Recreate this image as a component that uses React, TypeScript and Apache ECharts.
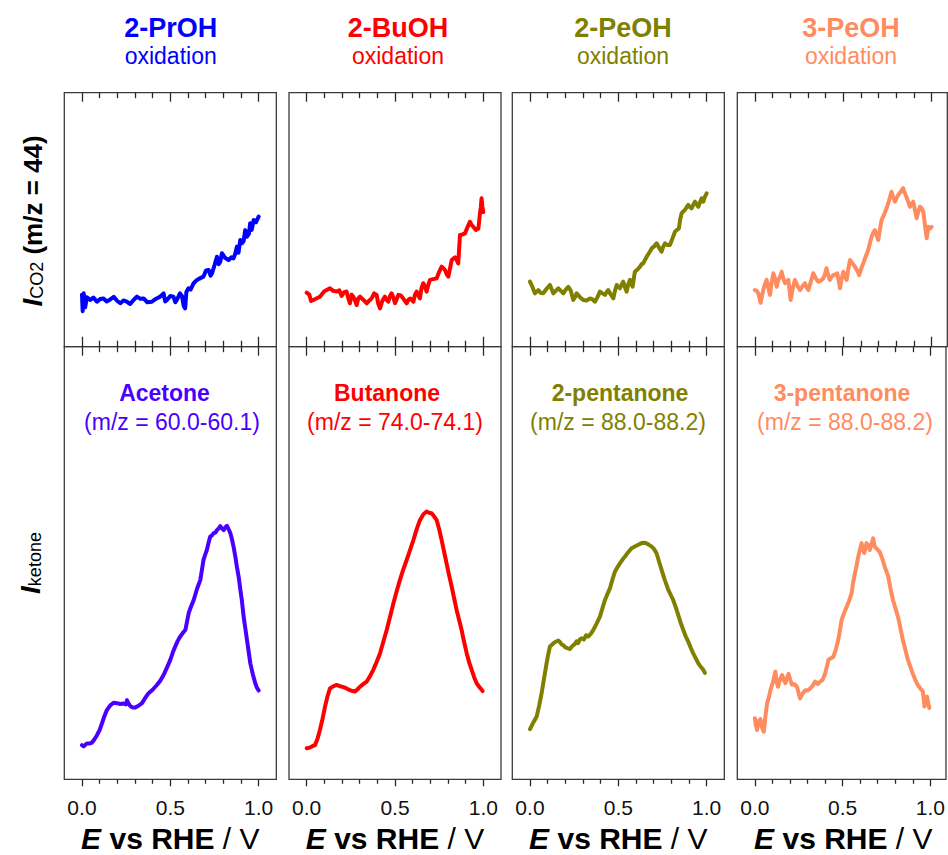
import React, { useEffect, useRef } from 'react';
import * as echarts from 'echarts';

const FONT = '"Liberation Sans", Arial, Helvetica, sans-serif';

// ---------- text ----------
const alcohols = ['2-PrOH', '2-BuOH', '2-PeOH', '3-PeOH'];
const ketones = ['Acetone', 'Butanone', '2-pentanone', '3-pentanone'];
const mzRanges = ['(m/z = 60.0-60.1)', '(m/z = 74.0-74.1)', '(m/z = 88.0-88.2)', '(m/z = 88.0-88.2)'];
const majorTicks = [0, 0.5, 1.0];
const minorTicks = [0.1, 0.2, 0.3, 0.4, 0.6, 0.7, 0.8, 0.9];

// ---------- data: [E (V vs RHE), signal (a.u.)] ----------
const co2PrOH = [[0.000,20.5],[0.004,14.0],[0.010,21.0],[0.018,15.5],[0.028,19.5],[0.047,18.4],[0.065,19.3],[0.085,17.7],[0.103,18.8],[0.122,19.0],[0.140,17.8],[0.160,18.6],[0.180,19.6],[0.200,18.0],[0.217,17.1],[0.235,18.2],[0.254,17.7],[0.273,16.8],[0.292,18.4],[0.311,19.7],[0.330,18.9],[0.349,19.0],[0.370,17.5],[0.396,17.7],[0.420,18.9],[0.443,19.7],[0.462,21.0],[0.471,17.8],[0.481,18.4],[0.500,20.0],[0.518,19.7],[0.528,17.5],[0.537,18.4],[0.555,21.0],[0.566,20.0],[0.576,16.0],[0.584,15.1],[0.591,21.5],[0.603,23.0],[0.615,22.5],[0.632,25.0],[0.651,26.3],[0.670,27.0],[0.688,27.6],[0.702,30.0],[0.717,30.2],[0.728,28.0],[0.736,28.9],[0.750,32.0],[0.764,35.4],[0.775,32.5],[0.783,33.5],[0.792,36.8],[0.810,35.0],[0.830,34.1],[0.845,35.2],[0.858,34.8],[0.867,36.5],[0.877,39.4],[0.886,37.0],[0.896,42.0],[0.905,40.7],[0.915,41.5],[0.924,45.9],[0.934,43.3],[0.945,44.5],[0.952,48.6],[0.961,46.0],[0.972,49.9],[0.985,49.0],[1.000,51.2]];
const co2BuOH = [[0.000,21.3],[0.015,20.5],[0.025,18.0],[0.038,18.4],[0.055,19.0],[0.075,19.7],[0.100,21.8],[0.132,23.0],[0.150,22.0],[0.170,21.7],[0.185,22.2],[0.198,20.0],[0.212,21.5],[0.226,21.7],[0.236,19.0],[0.245,17.1],[0.255,20.5],[0.264,19.7],[0.275,18.0],[0.283,16.4],[0.292,19.0],[0.302,19.7],[0.320,18.5],[0.340,17.1],[0.355,18.2],[0.368,19.0],[0.382,21.0],[0.396,20.4],[0.405,17.0],[0.415,15.1],[0.428,18.0],[0.443,19.7],[0.452,18.5],[0.462,17.7],[0.472,20.0],[0.481,21.0],[0.490,19.5],[0.500,17.1],[0.510,18.8],[0.519,20.4],[0.533,20.2],[0.547,19.0],[0.556,18.0],[0.566,17.1],[0.575,18.4],[0.585,19.0],[0.594,18.6],[0.604,17.7],[0.613,20.5],[0.623,21.7],[0.632,20.2],[0.641,19.0],[0.650,23.0],[0.660,25.0],[0.670,23.5],[0.679,21.7],[0.689,24.5],[0.698,26.3],[0.717,26.6],[0.736,26.9],[0.750,29.5],[0.764,31.5],[0.775,30.8],[0.783,30.2],[0.793,28.5],[0.802,27.6],[0.812,31.0],[0.821,34.1],[0.840,35.2],[0.850,34.0],[0.858,32.8],[0.863,38.5],[0.868,44.0],[0.882,44.2],[0.896,44.6],[0.910,47.0],[0.924,49.2],[0.933,48.0],[0.943,47.2],[0.958,46.0],[0.972,46.5],[0.981,52.5],[0.986,55.0],[0.990,58.4],[0.995,55.0],[1.000,53.0]];
const co2PeOH2 = [[0.000,25.6],[0.014,23.5],[0.028,21.0],[0.047,22.3],[0.060,21.2],[0.075,21.0],[0.094,22.8],[0.113,24.3],[0.132,21.0],[0.146,22.0],[0.160,23.0],[0.175,22.0],[0.189,21.0],[0.203,22.5],[0.217,23.6],[0.231,22.0],[0.245,18.4],[0.255,19.5],[0.264,21.0],[0.283,19.5],[0.302,18.4],[0.320,18.2],[0.340,19.0],[0.354,18.6],[0.368,17.7],[0.382,19.5],[0.396,21.7],[0.410,21.0],[0.425,20.4],[0.434,21.5],[0.443,22.3],[0.458,20.5],[0.472,19.0],[0.481,22.0],[0.491,24.3],[0.500,23.5],[0.509,23.0],[0.519,24.5],[0.528,25.6],[0.537,23.5],[0.547,21.7],[0.556,24.5],[0.566,26.3],[0.575,24.5],[0.581,23.6],[0.588,27.0],[0.594,29.5],[0.610,30.5],[0.623,31.5],[0.632,32.5],[0.641,32.8],[0.650,34.0],[0.660,35.4],[0.675,37.0],[0.689,38.7],[0.703,39.5],[0.717,40.7],[0.731,39.0],[0.745,37.4],[0.755,39.5],[0.764,40.7],[0.778,40.0],[0.792,40.0],[0.806,42.5],[0.821,45.3],[0.832,46.0],[0.843,46.6],[0.850,50.0],[0.858,52.5],[0.867,53.2],[0.877,53.8],[0.886,54.8],[0.896,55.8],[0.905,55.0],[0.915,54.5],[0.924,55.8],[0.934,57.1],[0.944,56.0],[0.953,55.1],[0.962,56.8],[0.972,58.4],[0.981,57.1],[0.990,59.0],[1.000,60.4]];
const co2PeOH3 = [[0.000,22.3],[0.010,22.0],[0.019,21.0],[0.026,19.0],[0.032,17.3],[0.040,20.0],[0.047,22.3],[0.056,24.5],[0.066,26.3],[0.075,23.5],[0.085,20.4],[0.094,25.0],[0.104,28.9],[0.113,27.0],[0.123,23.6],[0.132,26.3],[0.142,27.5],[0.151,29.5],[0.160,27.0],[0.170,25.0],[0.180,25.5],[0.189,26.3],[0.196,22.0],[0.202,18.4],[0.214,23.0],[0.226,26.3],[0.240,24.0],[0.255,22.3],[0.269,23.8],[0.283,25.0],[0.292,23.5],[0.302,22.3],[0.316,25.5],[0.330,28.9],[0.344,27.0],[0.358,25.6],[0.372,26.0],[0.387,26.9],[0.396,28.5],[0.405,30.9],[0.415,28.0],[0.424,26.3],[0.434,27.5],[0.443,28.2],[0.455,28.5],[0.466,28.9],[0.474,26.0],[0.481,23.0],[0.490,26.5],[0.500,29.5],[0.510,27.5],[0.519,26.3],[0.528,30.5],[0.538,34.1],[0.552,32.8],[0.566,31.5],[0.578,30.0],[0.590,28.2],[0.600,30.5],[0.613,32.8],[0.627,35.5],[0.641,38.1],[0.650,40.5],[0.660,43.3],[0.670,45.0],[0.679,45.9],[0.688,44.0],[0.698,42.0],[0.708,46.5],[0.717,49.9],[0.731,52.0],[0.745,54.5],[0.759,57.5],[0.773,61.0],[0.782,59.0],[0.792,57.1],[0.801,58.5],[0.811,59.7],[0.825,61.0],[0.839,62.4],[0.848,60.5],[0.858,58.8],[0.868,57.0],[0.877,55.1],[0.886,56.0],[0.896,57.1],[0.905,54.0],[0.915,50.6],[0.924,53.0],[0.934,55.1],[0.944,54.5],[0.953,53.1],[0.962,48.0],[0.972,42.7],[0.977,45.0],[0.981,47.2],[0.990,46.5],[1.000,47.2]];

const ketAcetone = [[0.000,7.9],[0.010,7.6],[0.028,8.3],[0.045,8.3],[0.057,8.5],[0.070,9.2],[0.085,10.2],[0.100,11.4],[0.113,12.9],[0.127,14.6],[0.141,16.0],[0.160,17.1],[0.179,17.7],[0.198,17.6],[0.217,17.4],[0.236,17.5],[0.250,17.3],[0.255,18.3],[0.262,17.6],[0.274,16.9],[0.288,16.6],[0.302,16.6],[0.320,17.0],[0.340,17.6],[0.358,18.8],[0.377,19.9],[0.400,20.7],[0.424,21.8],[0.443,22.8],[0.462,24.1],[0.481,25.8],[0.500,27.6],[0.514,29.3],[0.528,30.7],[0.542,32.0],[0.556,33.0],[0.570,33.8],[0.585,34.5],[0.595,36.5],[0.604,38.4],[0.618,40.0],[0.632,41.4],[0.651,44.0],[0.670,46.1],[0.679,48.4],[0.688,50.7],[0.698,52.0],[0.707,53.0],[0.716,54.6],[0.726,56.1],[0.736,56.4],[0.745,56.9],[0.755,57.0],[0.764,57.6],[0.774,58.0],[0.783,58.5],[0.792,58.0],[0.802,57.6],[0.811,58.2],[0.821,58.6],[0.830,57.8],[0.840,56.9],[0.849,55.5],[0.858,53.8],[0.868,51.5],[0.877,49.1],[0.887,46.8],[0.896,44.0],[0.905,41.4],[0.915,37.6],[0.925,34.8],[0.934,32.2],[0.944,29.4],[0.953,26.8],[0.967,24.3],[0.981,22.2],[0.990,21.2],[1.000,20.5]];
const ketButanone = [[0.000,7.2],[0.015,7.3],[0.030,7.6],[0.047,7.9],[0.061,9.3],[0.075,11.4],[0.090,14.0],[0.104,16.8],[0.118,19.2],[0.132,21.0],[0.150,21.5],[0.170,21.8],[0.190,21.5],[0.208,21.3],[0.226,21.0],[0.245,20.6],[0.260,20.4],[0.274,20.3],[0.288,20.8],[0.302,21.4],[0.320,22.0],[0.340,22.6],[0.358,23.8],[0.377,25.3],[0.396,27.1],[0.415,29.1],[0.434,31.8],[0.453,34.5],[0.472,37.6],[0.491,40.7],[0.509,43.4],[0.528,46.1],[0.547,48.5],[0.566,50.7],[0.585,53.0],[0.604,55.3],[0.622,57.7],[0.641,59.9],[0.660,61.2],[0.670,61.6],[0.679,61.9],[0.693,61.6],[0.707,61.5],[0.721,60.8],[0.736,59.9],[0.750,57.8],[0.764,55.3],[0.778,52.6],[0.792,49.9],[0.806,47.2],[0.821,44.5],[0.835,41.8],[0.849,39.1],[0.863,36.8],[0.877,34.5],[0.891,31.8],[0.906,29.1],[0.920,27.0],[0.934,25.3],[0.948,23.6],[0.962,22.2],[0.980,21.2],[0.996,20.4]];
const ketPentanone2 = [[0.000,11.6],[0.010,12.4],[0.020,13.2],[0.038,14.5],[0.052,17.0],[0.066,19.9],[0.080,23.4],[0.094,26.8],[0.104,29.0],[0.113,30.7],[0.132,31.4],[0.146,31.8],[0.160,32.1],[0.170,31.7],[0.179,31.2],[0.189,31.0],[0.200,30.5],[0.212,30.3],[0.226,30.1],[0.240,30.8],[0.255,31.3],[0.264,31.9],[0.273,31.5],[0.283,32.4],[0.292,32.6],[0.305,32.3],[0.318,33.3],[0.330,33.0],[0.344,33.6],[0.358,34.5],[0.377,36.0],[0.396,37.6],[0.410,39.5],[0.424,41.4],[0.438,42.8],[0.453,44.2],[0.467,46.2],[0.481,48.0],[0.495,49.0],[0.509,49.9],[0.524,50.8],[0.538,51.5],[0.556,52.5],[0.575,53.4],[0.594,53.8],[0.613,54.2],[0.632,54.6],[0.651,54.7],[0.670,54.3],[0.689,53.8],[0.703,53.2],[0.717,52.2],[0.731,50.3],[0.745,48.4],[0.764,46.0],[0.783,43.8],[0.797,42.6],[0.811,41.4],[0.825,39.8],[0.839,38.0],[0.853,36.2],[0.868,34.5],[0.882,33.0],[0.896,31.8],[0.910,30.4],[0.924,29.1],[0.938,28.0],[0.953,26.8],[0.967,26.0],[0.981,25.3],[0.990,24.6]];
const ketPentanone3 = [[0.000,14.1],[0.006,12.5],[0.013,11.4],[0.022,13.5],[0.032,13.9],[0.041,12.0],[0.051,11.0],[0.060,14.5],[0.070,17.6],[0.080,19.0],[0.089,20.6],[0.103,22.5],[0.117,24.9],[0.124,22.5],[0.132,21.4],[0.143,23.0],[0.155,24.1],[0.165,23.0],[0.174,22.2],[0.183,23.5],[0.192,24.4],[0.202,23.0],[0.211,21.9],[0.225,22.0],[0.240,21.4],[0.249,20.0],[0.258,18.7],[0.272,19.8],[0.287,20.6],[0.301,20.5],[0.315,21.0],[0.329,21.6],[0.343,22.6],[0.358,22.0],[0.372,22.6],[0.386,23.0],[0.400,24.4],[0.410,26.0],[0.419,27.6],[0.433,28.0],[0.447,28.3],[0.461,30.0],[0.475,32.2],[0.485,34.5],[0.494,36.8],[0.509,38.5],[0.523,39.9],[0.537,41.3],[0.551,43.0],[0.560,45.5],[0.570,47.6],[0.580,49.5],[0.589,51.5],[0.598,53.0],[0.608,54.6],[0.616,53.0],[0.623,52.3],[0.630,53.5],[0.636,54.6],[0.646,54.0],[0.655,53.0],[0.665,54.5],[0.674,55.7],[0.679,54.5],[0.683,53.8],[0.697,53.2],[0.711,52.6],[0.726,51.0],[0.740,49.1],[0.750,48.0],[0.759,47.0],[0.773,44.0],[0.787,41.4],[0.801,39.5],[0.815,37.6],[0.829,35.0],[0.843,32.2],[0.857,30.0],[0.872,27.6],[0.886,26.0],[0.900,24.4],[0.914,23.0],[0.928,21.8],[0.943,21.0],[0.957,20.3],[0.962,18.5],[0.966,16.8],[0.974,18.2],[0.981,19.1],[0.988,17.5],[0.994,16.5]];

const topSeries = [co2PrOH, co2BuOH, co2PeOH2, co2PeOH3];
const bottomSeries = [ketAcetone, ketButanone, ketPentanone2, ketPentanone3];

// ---------- styles / layout ----------
const topColors = ['#0000FF', '#FF0000', '#808000', '#FF8C5F'];
const bottomColors = ['#4A00FF', '#FF0000', '#808000', '#FF8C5F'];
const colLeft = [64.3, 289, 512.3, 737.3];
const colWidth = [212, 212, 212, 210];
const colXMax = [1.1, 1.1, 1.1, 1.0887];
const rows = [
  { top: 92.7, height: 254 },
  { top: 346.7, height: 432.6 },
];
const titleX = [170.7, 398, 623, 851];
const nameX = [164.5, 387, 620, 842];
const mzX = [172, 395, 618, 845];
const AXIS_COLOR = '#2a2a2a';

function buildOption() {
  const grid: any[] = [];
  const xAxis: any[] = [];
  const yAxis: any[] = [];
  const series: any[] = [];
  const graphic: any[] = [];

  for (let r = 0; r < 2; r++) {
    for (let c = 0; c < 4; c++) {
      const g = r * 4 + c;
      grid.push({
        left: colLeft[c], width: colWidth[c], top: rows[r].top, height: rows[r].height,
        show: true, borderColor: '#3a3a3a', borderWidth: 1.3, backgroundColor: 'transparent',
      });
      const base = {
        type: 'value', gridIndex: g, min: -0.1, max: colXMax[c],
        axisLine: { show: false, onZero: false },
        splitLine: { show: false },
        axisLabel: { show: false },
      };
      const tl = { color: AXIS_COLOR, width: 1.3 };
      xAxis.push({ ...base, position: 'top', axisTick: { show: true, inside: true, length: 9, customValues: majorTicks, lineStyle: tl } });
      xAxis.push({ ...base, position: 'top', axisTick: { show: true, inside: true, length: 5.5, customValues: minorTicks, lineStyle: tl } });
      xAxis.push({
        ...base, position: 'bottom',
        axisTick: { show: true, inside: r === 0, length: r === 0 ? 10 : 7, customValues: majorTicks, lineStyle: tl },
        axisLabel: r === 1 ? {
          show: true, customValues: majorTicks, formatter: (v: number) => v.toFixed(1),
          fontSize: 21, color: '#111', fontFamily: FONT, margin: 18,
        } : { show: false },
      });
      xAxis.push({ ...base, position: 'bottom', axisTick: { show: true, inside: r === 0, length: r === 0 ? 6 : 4.5, customValues: minorTicks, lineStyle: tl } });
      yAxis.push({ type: 'value', gridIndex: g, min: 0, max: 100, show: false, axisLine: { onZero: false } });
      const color = r === 0 ? topColors[c] : bottomColors[c];
      series.push({
        type: 'line', xAxisIndex: g * 4 + 2, yAxisIndex: g,
        data: r === 0 ? topSeries[c] : bottomSeries[c],
        showSymbol: false, symbol: 'none', silent: true,
        lineStyle: { color, width: 4, join: 'round', cap: 'round' },
        itemStyle: { color },
      });
    }
  }

  for (let c = 0; c < 4; c++) {
    graphic.push({
      type: 'text', x: titleX[c], y: 27.8, silent: true,
      style: { text: alcohols[c], fill: topColors[c], fontSize: 27, fontWeight: 'bold', fontFamily: FONT, align: 'center', verticalAlign: 'middle', textAlign: 'center', textVerticalAlign: 'middle' },
    });
    graphic.push({
      type: 'text', x: titleX[c], y: 56, silent: true,
      style: { text: 'oxidation', fill: topColors[c], fontSize: 23, fontFamily: FONT, align: 'center', verticalAlign: 'middle', textAlign: 'center', textVerticalAlign: 'middle' },
    });
    graphic.push({
      type: 'text', x: nameX[c], y: 392.6, silent: true,
      style: { text: ketones[c], fill: bottomColors[c], fontSize: 23, fontWeight: 'bold', fontFamily: FONT, align: 'center', verticalAlign: 'middle', textAlign: 'center', textVerticalAlign: 'middle' },
    });
    graphic.push({
      type: 'text', x: mzX[c], y: 421.5, silent: true,
      style: { text: mzRanges[c], fill: bottomColors[c], fontSize: 23, fontFamily: FONT, align: 'center', verticalAlign: 'middle', textAlign: 'center', textVerticalAlign: 'middle' },
    });
    graphic.push({
      type: 'text', x: colLeft[c] + 106, y: 838.5, silent: true,
      style: {
        text: '{e|E}{b| vs RHE }{n|/ V}', align: 'center', verticalAlign: 'middle', textAlign: 'center', textVerticalAlign: 'middle',
        rich: {
          e: { fontSize: 30, fontWeight: 'bold', fontStyle: 'italic', fontFamily: FONT, fill: '#000', lineHeight: 30 },
          b: { fontSize: 30, fontWeight: 'bold', fontFamily: FONT, fill: '#000', lineHeight: 30 },
          n: { fontSize: 30, fontFamily: FONT, fill: '#000', lineHeight: 30 },
        },
      },
    });
  }

  const yRich = (subLH: number) => ({
    i: { fontSize: 28, fontWeight: 'bold', fontStyle: 'italic', fontFamily: FONT, fill: '#000', lineHeight: 30, verticalAlign: 'bottom' },
    s: { fontSize: 18, fontFamily: FONT, fill: '#000', lineHeight: subLH, verticalAlign: 'bottom' },
    b: { fontSize: 26, fontWeight: 'bold', fontFamily: FONT, fill: '#000', lineHeight: 30, verticalAlign: 'bottom' },
  });
  graphic.push({
    type: 'text', x: 31, y: 221, rotation: Math.PI / 2, silent: true,
    style: { text: '{i|I}{s|CO2}{b| (m/z = 44)}', align: 'center', verticalAlign: 'middle', textAlign: 'center', textVerticalAlign: 'middle', rich: yRich(22) },
  });
  graphic.push({
    type: 'text', x: 29, y: 563, rotation: Math.PI / 2, silent: true,
    style: { text: '{i|I}{s|ketone}', align: 'center', verticalAlign: 'middle', textAlign: 'center', textVerticalAlign: 'middle', rich: yRich(14) },
  });

  return {
    animation: false,
    backgroundColor: '#ffffff',
    grid, xAxis, yAxis, series, graphic,
  };
}

export default function App() {
  const ref = useRef<HTMLDivElement>(null);
  useEffect(() => {
    if (!ref.current) return;
    const chart = echarts.init(ref.current, undefined, { renderer: 'svg' });
    chart.setOption(buildOption() as any);
    return () => chart.dispose();
  }, []);
  return (
    <div
      ref={ref}
      style={{ position: 'absolute', left: 0, top: 0, width: 948, height: 855, background: '#fff' }}
    />
  );
}
